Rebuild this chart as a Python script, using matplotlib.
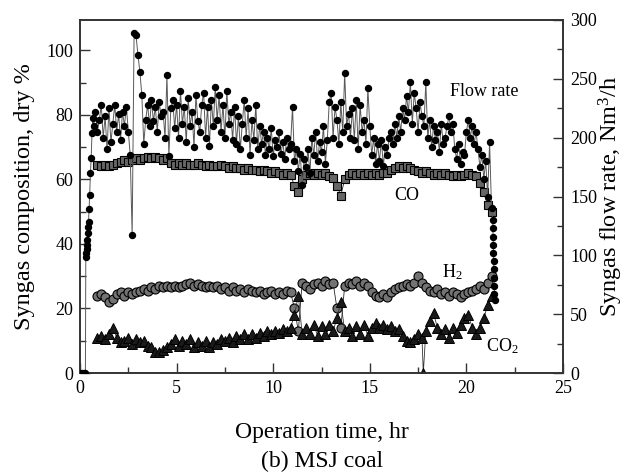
import numpy as np
import matplotlib
matplotlib.use("Agg")
import matplotlib.pyplot as plt
from matplotlib.ticker import MultipleLocator

plt.rcParams['font.family'] = ['Liberation Serif', 'DejaVu Serif']
plt.rcParams['mathtext.fontset'] = 'custom'
plt.rcParams['mathtext.rm'] = 'Liberation Serif'
plt.rcParams['mathtext.it'] = 'Liberation Serif:italic'

# ---------------- data ----------------
# Flow rate (right axis, Nm3/h)
flow_time_start = [0.0, 0.1, 0.2, 0.28, 0.30, 0.32, 0.34, 0.36, 0.38, 0.40, 0.42,
                   0.44, 0.47, 0.50, 0.54, 0.58, 0.62, 0.66]
flow_start = [0, 0, 0, 0, 99, 102, 105, 109, 113, 119, 124, 128, 139, 151, 170,
              183, 204, 217]
flow_main = [
    210, 222, 205, 215,                                   # 0.7-1.0
    228, 200, 218, 190, 225, 196,                         # 1.1-1.6
    212, 228, 205, 220, 198,                              # 1.7-2.1
    222, 210, 226, 205, 185,                              # 2.2-2.6
    117, 289, 287, 270, 256, 236, 195, 215,               # 2.7-3.4
    228, 210, 232, 214, 226, 205, 230, 218, 222,          # 3.5-4.3
    200, 253, 184, 225,                                   # 4.4-4.7
    232, 208, 228, 200, 240, 212, 226, 196, 234, 210, 222, 192, 236, 214, 205, 228,  # 4.8-6.3
    238, 200, 226, 193, 232, 210,                         # 6.4-6.9
    243, 215, 236, 205, 228, 200, 240, 212, 222, 198,     # 7.0-7.9
    226, 195, 218, 190, 212,                              # 8.0-8.4
    232, 200, 225, 185, 215, 198, 228, 190, 210, 195,     # 8.5-9.4
    205, 185, 200, 190, 208, 184, 198, 192, 205, 186, 196, 182, 200, 190, 195,  # 9.5-10.9
    226, 180,                                             # 11.0-11.1
    190, 172, 186, 160, 182, 175, 190, 170,               # 11.2-11.9
    200, 185, 205, 180, 196, 188, 210, 178, 198, 230,     # 12.0-12.9
    238, 200, 226,                                        # 13.0-13.2
    215, 195, 230, 205, 255, 210, 220, 200,               # 13.3-14.0
    225, 198, 232, 190, 228, 205, 215, 195, 242, 210,     # 14.1-15.0
    185, 200, 178, 195, 180, 198, 176, 192, 185, 200,     # 15.1-16.0
    205, 195, 212, 200, 218, 205, 225,                    # 16.1-16.7
    215, 235, 222, 247, 212, 238, 225, 205, 230, 218, 210, 247,  # 16.8-17.9
    200, 215, 192, 210, 198, 205, 188, 212, 195, 200,     # 18.0-18.9
    210, 218, 205, 212,                                   # 19.0-19.3
    190, 182, 195, 178, 188, 185,                         # 19.4-19.9
    205, 215, 200, 210, 195, 205,                         # 20.0-20.5
    190, 175, 185, 165, 180,                              # 20.6-21.0
    150, 196, 140,                                        # 21.1-21.3
]
flow_time_main = np.round(np.arange(len(flow_main)) * 0.1 + 0.7, 2)
flow_time_end = [21.36, 21.37, 21.38, 21.39, 21.40, 21.41, 21.42, 21.43, 21.44, 21.45, 21.46]
flow_end = [130, 123, 116, 109, 102, 95, 88, 81, 74, 67, 62]

# Gas composition (left axis, dry %)
co = [64.5, 64, 64.5, 64, 64.5, 65, 65.5,
      66, 65.5, 66, 66.5, 66, 66.5, 67, 66.5, 67, 66.5, 66, 66.5,
      65, 64.5, 65, 64.5, 65, 64.5, 64.5, 65, 64.5, 64, 64.5, 64,
      64, 64.5, 64, 63.5, 64, 63.5, 63.5, 63, 63.5, 63,
      63, 62.5, 63, 62.5, 62, 62.5, 62, 61.5, 62, 61.5,
      58, 56, 60,
      61.5, 62, 61.5, 62, 61.5, 62, 61, 60.5,
      58, 55, 60,
      61.5, 62, 61.5, 62, 61.5, 62, 61.5, 62, 61.5, 62, 62,
      63, 63.5, 64, 63.5, 64, 63.5, 63,
      62.5, 62, 62.5, 62, 61.5, 62, 61.5, 62, 61.5, 61, 61.5, 61, 61.5, 62, 61.5, 61,
      59, 56, 52, 50]
h2 = [24, 24.5, 23.5, 22, 23, 24.5, 25,
      24, 25, 24.5, 25, 25.5, 26, 25.5, 26.5, 26, 27, 26.5, 27,
      26.5, 27, 26.5, 27, 27.5, 28, 27, 27.5, 27, 26.5, 27, 26.5,
      27, 26, 26.5, 25.5, 26.5, 25.5, 26, 25, 26, 25.5,
      25, 25.5, 24.5, 25, 25.5, 24.5, 25, 24.5, 25.5, 25,
      20, 13, 28,
      27, 26, 27.5, 28, 27, 28.5, 27.5, 28,
      20, 14, 27,
      28, 27.5, 28.5, 27, 28, 27, 25, 24, 23.5, 24.5, 23.5,
      25, 26, 26.5, 27, 27.5, 27, 28,
      30, 28, 26.5, 25.5, 25, 26, 24.5, 25, 24, 25, 24.5, 23.5, 24.5, 25, 25.5, 26,
      27, 26, 28, 30]
co2 = [11, 11.5, 10.5, 12, 14, 11, 9.5,
       10, 11, 9, 10.5, 9.5, 10, 8.5, 8, 6.5, 6.5, 7, 8,
       9, 10.5, 8.5, 10, 9, 10.5, 8, 9.5, 8.5, 10, 8, 9.5,
       9, 10.5, 10, 11, 9.5, 11.5, 10.5, 12, 10.5, 12,
       11, 12.5, 11.5, 13, 12, 13, 12.5, 13.5, 13, 14,
       18, 24, 12,
       14, 12, 15, 11.5, 14.5, 12, 15, 13,
       17, 22, 13,
       14, 11.5, 14.5, 12, 15, 11.5, 14, 15.5, 14, 15, 13.5,
       14.5, 13, 13.5, 11.5, 10, 9.5, 10.5,
       12, 11, 13, 16, 18.5, 14, 12, 13.5, 11, 14, 12.5, 15, 17, 18, 14, 12,
       14, 17, 21, 24]
gas_time = np.round(np.arange(len(co)) * 0.2 + 0.9, 2)
co2_glitch_time = [17.77]
co2_glitch = [0]

# ---------------- plot ----------------
fig = plt.figure(figsize=(6.37, 4.75), dpi=100)
ax = fig.add_axes([80/637, 1-373/475, (563-80)/637, (373-20)/475])
ax2 = ax.twinx()

ax.plot(gas_time, co, '-', color='0.15', lw=0.6, marker='s', ms=5.5,
        mfc='0.4', mec='k', mew=0.8, zorder=3)
ax.plot(gas_time, h2, '-', color='0.15', lw=0.6, marker='o', ms=6.5,
        mfc='0.45', mec='k', mew=0.8, zorder=3)
ct = np.concatenate([gas_time, co2_glitch_time])
cv = np.concatenate([co2, co2_glitch])
order = np.argsort(ct)
ax.plot(ct[order], cv[order], '-', color='0.2', lw=0.6, marker='^', ms=7,
        mfc='0.1', mec='k', mew=0.7, zorder=3)

ft = np.concatenate([flow_time_start, flow_time_main, flow_time_end])
fv = np.concatenate([flow_start, flow_main, flow_end])
ax2.plot(ft, fv, '-', color='0.35', lw=0.7, marker='o', ms=4.3,
         mfc='k', mec='k', zorder=4)

ax.set_xlim(0, 25)
ax.set_ylim(0, 109.4)
ax2.set_ylim(0, 300)

ax.xaxis.set_major_locator(MultipleLocator(5))
ax.xaxis.set_minor_locator(MultipleLocator(2.5))
ax.yaxis.set_major_locator(MultipleLocator(20))
ax.yaxis.set_minor_locator(MultipleLocator(10))
ax2.yaxis.set_major_locator(MultipleLocator(50))
ax2.yaxis.set_minor_locator(MultipleLocator(25))

for a in (ax, ax2):
    a.tick_params(which='both', direction='in', labelsize=13, pad=5, width=1, color='0.2')
    a.tick_params(which='major', length=7)
    a.tick_params(which='minor', length=4)
    for s in a.spines.values():
        s.set_linewidth(1.2)
        s.set_color('0.2')
ax.tick_params(top=False, right=False, which='both')
ax2.tick_params(left=False, which='both')
ax.set_yticks([0, 20, 40, 60, 80, 100])

ax.set_xlabel('Operation time, hr', fontsize=17, labelpad=18)
ax.set_ylabel('Syngas composition, dry %', fontsize=17.5, labelpad=8)
ax2.set_ylabel('Syngas flow rate, Nm$^3$/h', fontsize=17.5, labelpad=0)

ax.text(20.9, 87.3, 'Flow rate', fontsize=13, ha='center', va='center', zorder=6)
ax.text(16.9, 55.0, 'CO', fontsize=13, ha='center', va='center', zorder=6)
ax.text(19.25, 31.3, 'H$_2$', fontsize=13, ha='center', va='center', zorder=6)
ax.text(21.85, 8.4, 'CO$_2$', fontsize=13, ha='center', va='center', zorder=6)

fig.text(0.5 + 0.005, 1 - 461/475, '(b) MSJ coal', fontsize=17, ha='center', va='center')

fig.savefig('out.png', dpi=100)
